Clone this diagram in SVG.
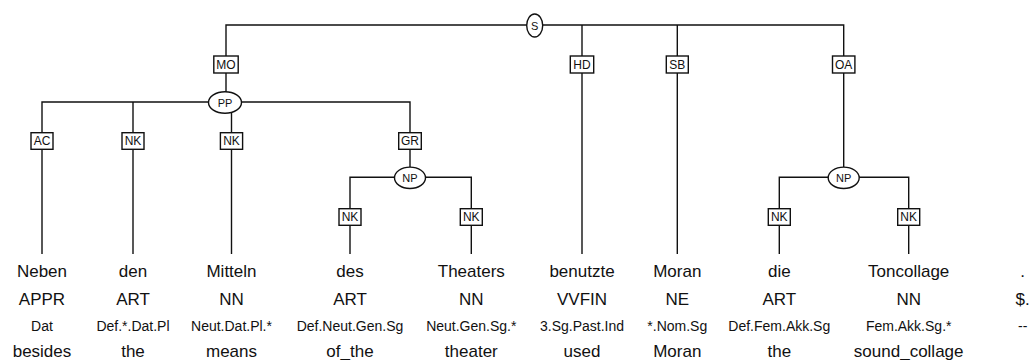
<svg xmlns="http://www.w3.org/2000/svg" width="1029" height="360" viewBox="0 0 1029 360">
<style>
  .ln { stroke:#111; stroke-width:1.4; fill:none; }
  .box { fill:#fff; stroke:#111; stroke-width:1.4; }
  .ell { fill:#fff; stroke:#111; stroke-width:1.4; }
  .lab { font-family:"Liberation Sans", Arial, sans-serif; font-size:12px; fill:#111; text-anchor:middle; }
  .cat { font-family:"Liberation Sans", Arial, sans-serif; font-size:11px; fill:#111; text-anchor:middle; }
  .w { font-family:"Liberation Sans", Arial, sans-serif; font-size:17px; fill:#111; text-anchor:middle; }
  .m { font-family:"Liberation Sans", Arial, sans-serif; font-size:14px; fill:#111; text-anchor:middle; }
</style>
<rect width="1029" height="360" fill="#fff"/>
<g id="connectors">
  <path class="ln" d="M226,102 V25 H843.7 V177.3"/>
  <path class="ln" d="M582,25 V254"/>
  <path class="ln" d="M677.3,25 V254"/>
  <path class="ln" d="M42,254 V102 H410 V177.3"/>
  <path class="ln" d="M133,102 V254"/>
  <path class="ln" d="M231.5,102 V254"/>
  <path class="ln" d="M350,254 V177.3 H471.3 V254"/>
  <path class="ln" d="M779.3,254 V177.3 H908.7 V254"/>
</g>
<g id="node-S"><ellipse class="ell" cx="534.7" cy="25.5" rx="8" ry="11.5"/><text class="cat" x="534.7" y="29.5">S</text></g>
<g id="edge-MO"><rect class="box" x="213.8" y="56" width="24.4" height="17"/><text class="lab" x="226" y="68.8">MO</text></g>
<g id="edge-HD"><rect class="box" x="570.3" y="56" width="23.4" height="17"/><text class="lab" x="582" y="68.8">HD</text></g>
<g id="edge-SB"><rect class="box" x="666.3" y="56" width="22" height="17"/><text class="lab" x="677.3" y="68.8">SB</text></g>
<g id="edge-OA"><rect class="box" x="832.5" y="56" width="22.4" height="17"/><text class="lab" x="843.7" y="68.8">OA</text></g>
<g id="node-PP"><ellipse class="ell" cx="225" cy="102.5" rx="16.5" ry="10.8"/><text class="cat" x="225" y="106.5">PP</text></g>
<g id="edge-AC"><rect class="box" x="31" y="132.7" width="22" height="16.6"/><text class="lab" x="42" y="145.3">AC</text></g>
<g id="edge-NK1"><rect class="box" x="122" y="132.7" width="22" height="16.6"/><text class="lab" x="133" y="145.3">NK</text></g>
<g id="edge-NK2"><rect class="box" x="220.4" y="132.7" width="22.2" height="16.6"/><text class="lab" x="231.5" y="145.3">NK</text></g>
<g id="edge-GR"><rect class="box" x="398.7" y="132.7" width="22.6" height="16.6"/><text class="lab" x="410" y="145.3">GR</text></g>
<g id="node-NP1"><ellipse class="ell" cx="410" cy="177.8" rx="15.5" ry="10.7"/><text class="cat" x="410" y="181.8">NP</text></g>
<g id="node-NP2"><ellipse class="ell" cx="843.7" cy="177.8" rx="15.5" ry="10.7"/><text class="cat" x="843.7" y="181.8">NP</text></g>
<g id="edge-NK3"><rect class="box" x="339" y="208.7" width="22" height="16.6"/><text class="lab" x="350" y="221.3">NK</text></g>
<g id="edge-NK4"><rect class="box" x="460.3" y="208.7" width="22" height="16.6"/><text class="lab" x="471.3" y="221.3">NK</text></g>
<g id="edge-NK5"><rect class="box" x="768.3" y="208.7" width="22" height="16.6"/><text class="lab" x="779.3" y="221.3">NK</text></g>
<g id="edge-NK6"><rect class="box" x="897.7" y="208.7" width="22" height="16.6"/><text class="lab" x="908.7" y="221.3">NK</text></g>
<g id="tok-1"><text class="w" x="42" y="276.5">Neben</text><text class="w" x="42" y="304.5">APPR</text><text class="m" x="42" y="330.5">Dat</text><text class="w" x="42" y="357">besides</text></g>
<g id="tok-2"><text class="w" x="133" y="276.5">den</text><text class="w" x="133" y="304.5">ART</text><text class="m" x="133" y="330.5">Def.*.Dat.Pl</text><text class="w" x="133" y="357">the</text></g>
<g id="tok-3"><text class="w" x="231.5" y="276.5">Mitteln</text><text class="w" x="231.5" y="304.5">NN</text><text class="m" x="231.5" y="330.5">Neut.Dat.Pl.*</text><text class="w" x="231.5" y="357">means</text></g>
<g id="tok-4"><text class="w" x="350" y="276.5">des</text><text class="w" x="350" y="304.5">ART</text><text class="m" x="350" y="330.5">Def.Neut.Gen.Sg</text><text class="w" x="350" y="357">of_the</text></g>
<g id="tok-5"><text class="w" x="471.3" y="276.5">Theaters</text><text class="w" x="471.3" y="304.5">NN</text><text class="m" x="471.3" y="330.5">Neut.Gen.Sg.*</text><text class="w" x="471.3" y="357">theater</text></g>
<g id="tok-6"><text class="w" x="582" y="276.5">benutzte</text><text class="w" x="582" y="304.5">VVFIN</text><text class="m" x="582" y="330.5">3.Sg.Past.Ind</text><text class="w" x="582" y="357">used</text></g>
<g id="tok-7"><text class="w" x="677.3" y="276.5">Moran</text><text class="w" x="677.3" y="304.5">NE</text><text class="m" x="677.3" y="330.5">*.Nom.Sg</text><text class="w" x="677.3" y="357">Moran</text></g>
<g id="tok-8"><text class="w" x="779.3" y="276.5">die</text><text class="w" x="779.3" y="304.5">ART</text><text class="m" x="779.3" y="330.5">Def.Fem.Akk.Sg</text><text class="w" x="779.3" y="357">the</text></g>
<g id="tok-9"><text class="w" x="908.7" y="276.5">Toncollage</text><text class="w" x="908.7" y="304.5">NN</text><text class="m" x="908.7" y="330.5">Fem.Akk.Sg.*</text><text class="w" x="908.7" y="357">sound_collage</text></g>
<g id="tok-10"><text class="w" x="1022.7" y="276.5">.</text><text class="w" x="1022.7" y="304.5">$.</text><text class="m" x="1022.7" y="330.5">--</text></g>
</svg>
